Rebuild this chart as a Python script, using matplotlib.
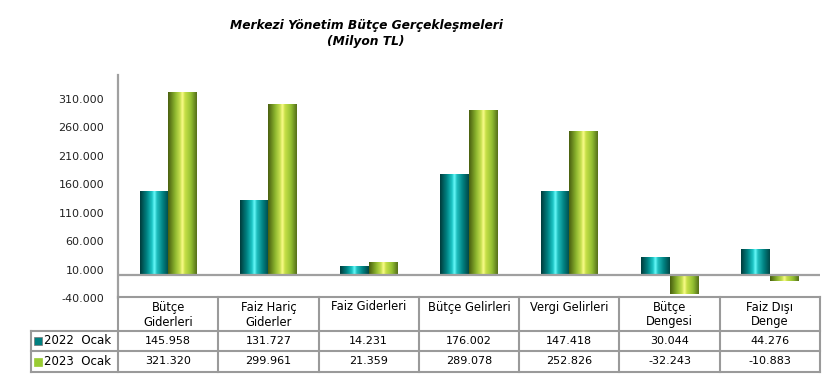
import matplotlib
matplotlib.use("Agg")
import matplotlib.pyplot as plt
import numpy as np
from matplotlib.colors import LinearSegmentedColormap

# donnees
categories = ["Bütçe\nGiderleri", "Faiz Hariç\nGiderler", "Faiz Giderleri",
              "Bütçe Gelirleri", "Vergi Gelirleri", "Bütçe\nDengesi", "Faiz Dışı\nDenge"]
series = ["2022  Ocak", "2023  Ocak"]
ocak2022 = [145958, 131727, 14231, 176002, 147418, 30044, 44276]
ocak2023 = [321320, 299961, 21359, 289078, 252826, -32243, -10883]
yticks = list(range(-40000, 310001, 50000))

def fmt(v):
    return f"{v:,}".replace(",", ".")

# degrades "cylindre"
cm_teal = LinearSegmentedColormap.from_list("teal", [
    (0.0, "#003c3c"), (0.25, "#008a8a"), (0.42, "#1fc8c8"), (0.5, "#70ffff"),
    (0.58, "#20c0c0"), (0.8, "#008080"), (1.0, "#004848")])
cm_green = LinearSegmentedColormap.from_list("green", [
    (0.0, "#4a6010"), (0.25, "#8fb830"), (0.42, "#c8e050"), (0.5, "#ffff90"),
    (0.58, "#c8e048"), (0.8, "#93c032"), (1.0, "#56701a")])
colors = ["#008080", "#99cc33"]
grad = np.linspace(0, 1, 64).reshape(1, -1)

W, H = 840, 384
fig = plt.figure(figsize=(8.4, 3.84), dpi=100)
ax = fig.add_axes([118 / W, (H - 298) / H, (820 - 118) / W, (298 - 75) / H])

bw = 0.285
x = np.arange(len(categories))
for vals, cmap, off in [(ocak2022, cm_teal, -bw / 2), (ocak2023, cm_green, bw / 2)]:
    bars = ax.bar(x + off, vals, width=bw, color="none", edgecolor="none")
    for b in bars:
        x0, y0 = b.get_x(), b.get_y()
        w, h = b.get_width(), b.get_height()
        ax.imshow(grad, cmap=cmap, aspect="auto", extent=[x0, x0 + w, y0, y0 + h],
                  zorder=2, interpolation="bicubic")

ax.set_xlim(-0.5, len(categories) - 0.5)
ax.set_ylim(-40000, 352000)
ax.axhline(0, color="#a0a0a0", lw=1.6, zorder=3)
ax.set_yticks(yticks)
ax.set_yticklabels([fmt(v) for v in yticks], fontsize=8, color="#222222")
ax.tick_params(axis="y", length=0, pad=10)
ax.set_xticks([])
for s in ["top", "right", "bottom"]:
    ax.spines[s].set_visible(False)
ax.spines["left"].set_color("#a0a0a0")
ax.spines["left"].set_linewidth(1.6)

# titre
fig.text(366 / W, 1 - 25 / H, "Merkezi Yönetim Bütçe Gerçekleşmeleri", ha="center", va="center",
         fontsize=8.8, fontweight="bold", style="italic")
fig.text(366 / W, 1 - 42 / H, "(Milyon TL)", ha="center", va="center",
         fontsize=8.8, fontweight="bold", style="italic")

# tableau de donnees
tax = fig.add_axes([0, 0, 1, 1])
tax.set_xlim(0, W)
tax.set_ylim(H, 0)
tax.axis("off")
x_left, x_cat, x_right = 31, 118, 820
y_top, y_r1, y_r2, y_bot = 297, 331, 351, 372
cw = (x_right - x_cat) / len(categories)
lc, lw = "#9a9a9a", 1.5
tax.plot([x_cat, x_right], [y_top, y_top], color=lc, lw=lw)
tax.plot([x_left, x_right], [y_r1, y_r1], color=lc, lw=lw)
tax.plot([x_left, x_right], [y_r2, y_r2], color=lc, lw=lw)
tax.plot([x_left, x_right], [y_bot, y_bot], color=lc, lw=lw)
tax.plot([x_left, x_left], [y_r1, y_bot], color=lc, lw=lw)
for i in range(len(categories) + 1):
    tax.plot([x_cat + i * cw] * 2, [y_top, y_bot], color=lc, lw=lw)
for i, c in enumerate(categories):
    cx = x_cat + (i + 0.5) * cw
    tax.text(cx, y_top + 3.5, c, ha="center", va="top", fontsize=8.3, linespacing=1.2)
    tax.text(cx, (y_r1 + y_r2) / 2, fmt(ocak2022[i]), ha="center", va="center", fontsize=8)
    tax.text(cx, (y_r2 + y_bot) / 2, fmt(ocak2023[i]), ha="center", va="center", fontsize=8)
for k, (lab, col) in enumerate(zip(series, colors)):
    yc = (y_r1 + y_r2) / 2 if k == 0 else (y_r2 + y_bot) / 2
    tax.plot([38], [yc], marker="s", ms=6, color=col, mec="#777777" if k == 0 else col, mew=0.5)
    tax.text(44, yc, lab, ha="left", va="center", fontsize=8.5)

fig.savefig("out.png", dpi=100)
